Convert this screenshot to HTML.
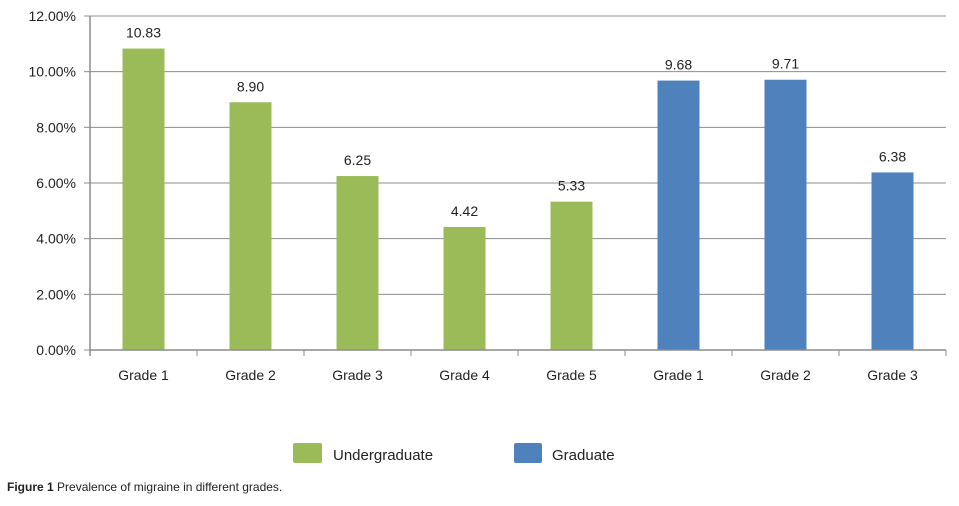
<!DOCTYPE html>
<html><head><meta charset="utf-8"><style>
body{margin:0;background:#fff;width:959px;height:501px;overflow:hidden;font-family:"Liberation Sans",sans-serif}
svg text{font-family:"Liberation Sans",sans-serif}
</style></head><body>
<svg width="959" height="501">
<g id="grid"></g><g id="bars"></g><g id="axes"></g>
<g>
<rect x="293" y="443" width="29" height="20" rx="2" fill="#9BBB59"/>
<text x="333" y="460" font-size="15" fill="#222">Undergraduate</text>
<rect x="514" y="443" width="28" height="20" rx="2" fill="#4F81BD"/>
<text x="552" y="460" font-size="15" fill="#222">Graduate</text>
</g>
<text x="7" y="491" font-size="12" fill="#222"><tspan font-weight="bold">Figure 1</tspan> Prevalence of migraine in different grades.</text>
</svg>
<script>
const categories=["Grade 1","Grade 2","Grade 3","Grade 4","Grade 5","Grade 1","Grade 2","Grade 3"];
const values=[10.83,8.90,6.25,4.42,5.33,9.68,9.71,6.38];
const groups=["u","u","u","u","u","g","g","g"];
const valueLabels=["10.83","8.90","6.25","4.42","5.33","9.68","9.71","6.38"];
const yTicks=[0,2,4,6,8,10,12];
const yTickLabels=["0.00%","2.00%","4.00%","6.00%","8.00%","10.00%","12.00%"];
const NS="http://www.w3.org/2000/svg";
const L=90,R=946,T=16,B=350,yMax=12;
const y=v=>B-(v/yMax)*(B-T);
const band=(R-L)/categories.length;
const x=i=>L+band*(i+0.5);
function mk(tag,attrs,parent){const e=document.createElementNS(NS,tag);for(const k in attrs)e.setAttribute(k,attrs[k]);parent.appendChild(e);return e;}
const grid=document.getElementById('grid'),bars=document.getElementById('bars'),axes=document.getElementById('axes');
yTicks.forEach((t,i)=>{
  if(t>0){const g=mk('line',{x1:L,x2:R,y1:y(t),y2:y(t),stroke:'#8c8c8c','stroke-width':1},grid);
  
  }
  const tk=mk('line',{x1:L-6,x2:L,y1:y(t),y2:y(t),stroke:'#8c8c8c'},axes);
  
  
  const tx=mk('text',{x:L-14,y:y(t)+5,'font-size':14,'text-anchor':'end',fill:'#222'},axes);
  tx.textContent=yTickLabels[i];
  
  
});
const bw=42;
categories.forEach((c,i)=>{
  const r=mk('rect',{x:x(i)-bw/2,y:y(values[i]),width:bw,height:B-y(values[i]),fill:groups[i]==='u'?'#9BBB59':'#4F81BD'},bars);
  
  
  const vl=mk('text',{x:x(i),y:y(values[i])-11,'font-size':14,'text-anchor':'middle',fill:'#222'},bars);
  vl.textContent=valueLabels[i];
  
  
  const cl=mk('text',{x:x(i),y:B+30,'font-size':14,'text-anchor':'middle',fill:'#222'},axes);
  cl.textContent=c;
  
  
});
for(let i=0;i<=categories.length;i++){
  const tk=mk('line',{x1:L+band*i,x2:L+band*i,y1:B,y2:B+6,stroke:'#8c8c8c'},axes);
  
  
}
const ya=mk('line',{x1:L,x2:L,y1:T,y2:B+6,stroke:'#8c8c8c','stroke-width':1.5},axes);


const xa=mk('line',{x1:L,x2:R,y1:B,y2:B,stroke:'#8c8c8c','stroke-width':1.5},axes);


</script>
</body></html>
